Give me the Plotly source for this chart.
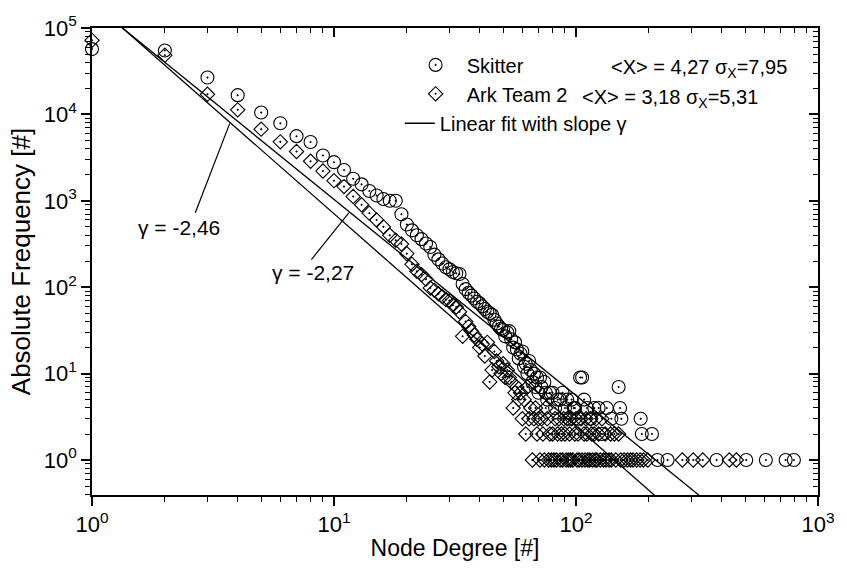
import math
import plotly.graph_objects as go

# ---------------- data ----------------
skitter_deg = [1, 2, 3, 4, 5, 6, 7, 8, 9, 10, 11, 12, 13, 14, 15, 16, 17, 18, 19, 20,
               21, 22, 23, 24, 25, 26, 27, 28, 29, 30, 31, 32, 33, 34, 35, 36, 37, 38, 39, 40,
               41, 42, 43, 44, 45, 46, 47, 48, 49, 50, 51, 52, 53, 54, 55, 56, 57, 58, 59, 60,
               61, 62, 63, 64, 65, 66, 67, 68, 69, 70, 71, 72, 74, 75, 76, 78, 80, 82, 84, 86,
               88, 90, 92, 94, 96, 98, 99, 102, 104, 106, 108, 111, 115, 119, 124, 128, 134, 140, 150, 152,
               154, 185, 187, 206, 217, 239, 381, 505, 609, 735, 795]
skitter_cnt = [57000, 55000, 26700, 16700, 10500, 7900, 5600, 4800, 3350, 2800, 2270, 1800, 1550, 1300, 1150, 1050, 1000, 1000, 700, 531,
               455, 400, 360, 320, 292, 238, 210, 188, 170, 161, 150, 145, 142, 109, 95, 86, 80, 74, 68, 65,
               60, 56, 52, 50, 48, 42, 38, 35, 33, 32, 27, 30, 31, 25, 20, 23, 19, 15, 17, 18,
               12, 13, 10, 14, 11, 8, 10, 7, 9, 6, 9, 7, 8, 6, 5, 6, 6, 4, 5, 5,
               6, 4, 5, 3, 5, 4, 4, 3, 9, 9, 5, 4, 3, 4, 4, 2, 4, 3, 7, 4,
               3, 3, 2, 2, 1, 1, 1, 1, 1, 1, 1]

ark_deg = [1, 2, 3, 4, 5, 6, 7, 8, 9, 10, 11, 12, 13, 14, 15, 16, 17, 18, 19, 20,
           21, 22, 23, 24, 25, 26, 27, 28, 29, 30, 31, 32, 33, 34, 35, 36, 37, 38, 39, 40,
           41, 42, 43, 44, 45, 46, 47, 48, 49, 50, 51, 52, 53, 54, 55, 56, 57, 58, 59, 60,
           61, 62, 63, 64, 65, 66, 67, 68, 69, 70, 71, 72, 73, 74, 75, 76, 77, 78, 79, 80,
           81, 82, 83, 84, 85, 86, 87, 88, 89, 90, 91, 92, 93, 94, 95, 96, 97, 98, 99, 100,
           101, 102, 103, 105, 106, 108, 109, 110, 111, 112, 114, 115, 116, 117, 119, 120, 121, 122, 124, 126,
           128, 130, 132, 133, 137, 139, 140, 144, 146, 150, 153, 158, 163, 168, 172, 178, 184, 190, 198, 275,
           305, 334, 430, 460]
ark_cnt = [72000, 48400, 17100, 11300, 6750, 4810, 3720, 2870, 2210, 1710, 1460, 1120, 900, 720, 600, 500, 399, 350, 316, 244,
           184, 153, 140, 124, 98, 92, 84, 78, 72, 70, 62, 59, 52, 27, 40, 35, 31, 28, 25, 20,
           22, 16, 23, 8, 11, 18, 14, 12, 10, 13, 9, 11, 9, 8, 4, 6, 7, 5, 6, 3,
           5, 2, 7, 3, 4, 1, 3, 4, 2, 3, 1, 3, 2, 1, 4, 3, 1, 2, 1, 2,
           1, 3, 1, 2, 3, 1, 2, 1, 3, 2, 1, 3, 1, 2, 1, 3, 1, 4, 2, 3,
           1, 2, 1, 3, 1, 2, 1, 3, 2, 1, 1, 3, 2, 1, 2, 1, 3, 1, 2, 1,
           3, 1, 2, 1, 1, 2, 1, 2, 1, 2, 1, 1, 1, 1, 1, 1, 1, 1, 1, 1,
           1, 1, 1, 1]

# linear fits in log-log space: log10(y) = intercept + slope * log10(x)
fit_slopes = [-2.46, -2.27]
fit_intercepts = [5.31, 5.286]
fit_x = [1, 1000]

x_ticks = [1, 10, 100, 1000]
x_ticktext = ["10<sup>0</sup>", "10<sup>1</sup>", "10<sup>2</sup>", "10<sup>3</sup>"]
y_ticks = [1, 10, 100, 1000, 10000, 100000]
y_ticktext = ["10<sup>0</sup>", "10<sup>1</sup>", "10<sup>2</sup>", "10<sup>3</sup>", "10<sup>4</sup>", "10<sup>5</sup>"]

FONT = "Liberation Sans, Arial, sans-serif"
NB = "\u00a0"

fig = go.Figure()

fig.add_trace(go.Scatter(
    x=skitter_deg, y=skitter_cnt, mode="markers", name=NB * 2 + "Skitter",
    marker=dict(symbol="circle-open-dot", size=13, color="black", line=dict(width=1.1, color="black")),
    legend="legend", cliponaxis=False))
fig.add_trace(go.Scatter(
    x=ark_deg, y=ark_cnt, mode="markers", name=NB * 2 + "Ark Team 2",
    marker=dict(symbol="diamond-open-dot", size=11, color="black", line=dict(width=1.1, color="black")),
    legend="legend2", cliponaxis=False))

for i, (s, b) in enumerate(zip(fit_slopes, fit_intercepts)):
    ys = [10 ** (b + s * math.log10(x)) for x in fit_x]
    fig.add_trace(go.Scatter(
        x=fit_x, y=ys, mode="lines", name="Linear fit with slope γ",
        line=dict(color="black", width=1.3), showlegend=(i == 0), legend="legend3"))

# invisible trace for mirrored axes
fig.add_trace(go.Scatter(x=[10], y=[10], xaxis="x2", yaxis="y2", mode="markers",
                         marker=dict(opacity=0), showlegend=False, hoverinfo="skip"))

axis_common = dict(type="log", showgrid=False, zeroline=False, showline=True,
                   linecolor="black", linewidth=1.5, ticks="outside", tickcolor="black",
                   tickwidth=1.5, ticklen=9,
                   minor=dict(ticks="outside", ticklen=5, tickwidth=1.2, tickcolor="black",
                              dtick="D1", showgrid=False),
                   tickfont=dict(family=FONT, size=22, color="black"))

fig.update_layout(
    width=847, height=569,
    margin=dict(l=92, r=17, t=20, b=69),
    paper_bgcolor="white", plot_bgcolor="white",
    font=dict(family=FONT, size=20, color="black"),
    xaxis=dict(axis_common, range=[0, 3], tickvals=x_ticks, ticktext=x_ticktext,
               title=dict(text="Node Degree [#]", font=dict(family=FONT, size=23), standoff=4)),
    yaxis=dict(axis_common, range=[-0.405, 5], tickvals=y_ticks, ticktext=y_ticktext,
               title=dict(text="Absolute Frequency [#]", font=dict(family=FONT, size=26), standoff=6)),
    xaxis2=dict(type="log", range=[0, 3], overlaying="x", side="top", showgrid=False,
                showline=True, linecolor="black", linewidth=1.5, ticks="inside", ticklen=9,
                tickwidth=1.5, tickcolor="black", tickvals=x_ticks, showticklabels=False,
                minor=dict(ticks="inside", ticklen=5, tickwidth=1.2, tickcolor="black", dtick="D1")),
    yaxis2=dict(type="log", range=[-0.405, 5], overlaying="y", side="right", showgrid=False,
                showline=True, linecolor="black", linewidth=1.5, ticks="inside", ticklen=9,
                tickwidth=1.5, tickcolor="black", tickvals=y_ticks, showticklabels=False,
                minor=dict(ticks="inside", ticklen=5, tickwidth=1.2, tickcolor="black", dtick="D1")),
    legend=dict(x=0.4457, y=0.921, xanchor="left", yanchor="middle", bgcolor="rgba(0,0,0,0)",
                font=dict(family=FONT, size=20)),
    legend2=dict(x=0.4457, y=0.859, xanchor="left", yanchor="middle", bgcolor="rgba(0,0,0,0)",
                 font=dict(family=FONT, size=20)),
    legend3=dict(x=0.424, y=0.796, xanchor="left", yanchor="middle", bgcolor="rgba(0,0,0,0)",
                 font=dict(family=FONT, size=20)),
    showlegend=True,
)

annots = [
    dict(text="&lt;X&gt; = 4,27 σ<sub>X</sub>=7,95", x=(618 - 92) / 738, y=(500 - 62) / 480),
    dict(text="&lt;X&gt; = 3,18 σ<sub>X</sub>=5,31", x=(588 - 92) / 738, y=(500 - 92) / 480),
]
for a in annots:
    fig.add_annotation(xref="paper", yref="paper", xanchor="left", yanchor="middle",
                       showarrow=False, font=dict(family=FONT, size=20), **a)

fig.add_annotation(text="γ = -2,46", xref="paper", yref="paper", x=(180 - 92) / 738, y=(500 - 225) / 480,
                   xanchor="center", yanchor="middle",
                   showarrow=False, font=dict(family=FONT, size=21))
fig.add_annotation(text="γ = -2,27", xref="paper", yref="paper", x=(317 - 92) / 738, y=(500 - 271) / 480,
                   xanchor="center", yanchor="middle",
                   showarrow=False, font=dict(family=FONT, size=21))

fig.add_shape(type="line", xref="paper", yref="paper", x0=0.1423, y0=0.6042, x1=0.1897, y1=0.7958,
              line=dict(color="black", width=1.2))
fig.add_shape(type="line", xref="paper", yref="paper", x0=0.3022, y0=0.5042, x1=0.3537, y1=0.6042,
              line=dict(color="black", width=1.2))

fig.write_html("out.html")
